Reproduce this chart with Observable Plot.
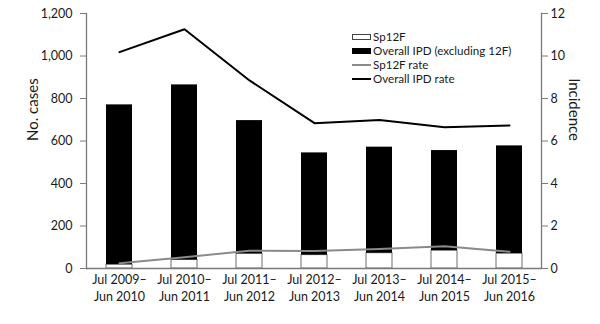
<!DOCTYPE html>
<html>
<head>
<meta charset="utf-8">
<script src="https://cdn.jsdelivr.net/npm/d3@7"></script>
<script src="https://cdn.jsdelivr.net/npm/@observablehq/plot@0.6"></script>
<style>
  html, body { margin: 0; padding: 0; background: #fff; }
  #wrap { position: relative; width: 600px; height: 324px; font-family: Lato, "Open Sans", sans-serif; color: #1a1a1a; }
  #legend { position: absolute; left: 352px; top: 30px; font-size: 11.6px; line-height: 14px; }
  #legend .row { display: flex; align-items: center; height: 14px; white-space: nowrap; }
  #legend .sw { width: 19px; margin-right: 2px; box-sizing: border-box; flex: none; }
</style>
</head>
<body>
<div id="wrap">
  <div id="chart"></div>
  <div id="legend"></div>
</div>
<script>
const periods = ["Jul 2009–\nJun 2010", "Jul 2010–\nJun 2011", "Jul 2011–\nJun 2012", "Jul 2012–\nJun 2013", "Jul 2013–\nJun 2014", "Jul 2014–\nJun 2015", "Jul 2015–\nJun 2016"];
const sp12fCases = [18, 40, 69, 63, 72, 84, 70];
const otherCases = [752, 824, 627, 481, 499, 471, 507];
const sp12fRate = [0.25, 0.53, 0.84, 0.82, 0.92, 1.05, 0.79];
const overallRate = [10.18, 11.26, 8.85, 6.84, 6.99, 6.65, 6.73];
const leftTicks = [0, 200, 400, 600, 800, 1000, 1200];
const rightTicks = [0, 2, 4, 6, 8, 10, 12];
const seriesNames = ["Sp12F", "Overall IPD (excluding 12F)", "Sp12F rate", "Overall IPD rate"];

const rateFactor = 100; // incidence axis 0–12 maps onto cases axis 0–1200
const rows = periods.map((p, i) => ({
  period: p,
  sp12f: sp12fCases[i],
  total: sp12fCases[i] + otherCases[i],
  sp12fRate: sp12fRate[i] * rateFactor,
  overallRate: overallRate[i] * rateFactor
}));

const axisColor = "#7a7a7a";
const textColor = "#1a1a1a";

const chart = Plot.plot({
  width: 600,
  height: 324,
  marginLeft: 86,
  marginRight: 59,
  marginTop: 13,
  marginBottom: 56,
  style: { fontFamily: "Lato, 'Open Sans', sans-serif", fontSize: "12.5px", color: textColor, background: "#fff" },
  x: { domain: periods, paddingInner: 0.6, paddingOuter: 0.3, axis: null },
  y: { domain: [0, 1200], axis: null },
  marks: [
    Plot.barY(rows, { x: "period", y1: 0, y2: "sp12f", fill: "#fff", stroke: "#6e6e6e", strokeWidth: 1 }),
    Plot.barY(rows, { x: "period", y1: "sp12f", y2: "total", fill: "#000" }),
    Plot.line(rows, { x: "period", y: "sp12fRate", stroke: "#8a8a8a", strokeWidth: 2 }),
    Plot.line(rows, { x: "period", y: "overallRate", stroke: "#000", strokeWidth: 2 }),
    Plot.ruleY([0], { stroke: axisColor, strokeWidth: 1.3 }),
    Plot.frame({ anchor: "left", stroke: axisColor, strokeWidth: 1.3 }),
    Plot.frame({ anchor: "right", stroke: axisColor, strokeWidth: 1.3 }),
    Plot.axisY(leftTicks, { anchor: "left", tickSize: 6, tickPadding: 8, stroke: axisColor, fill: textColor, fontSize: 12.5, label: null }),
    Plot.axisY(rightTicks.map(d => d * rateFactor), { anchor: "right", tickSize: 6, tickPadding: 3, tickFormat: d => String(d / rateFactor), stroke: axisColor, fill: textColor, fontSize: 12.5, label: null }),
    Plot.text(periods, { x: d => d, frameAnchor: "bottom", lineAnchor: "top", dy: 3, lineHeight: 1.4, fontSize: 12.5, fill: textColor }),
    Plot.text(["No. cases"], { frameAnchor: "left", rotate: -90, dx: -53, fontSize: 15, fill: textColor }),
    Plot.text(["Incidence"], { frameAnchor: "right", rotate: 90, dx: 32, fontSize: 15, fill: textColor })
  ]
});
document.getElementById("chart").appendChild(chart);

// Legend
const legend = document.getElementById("legend");
const swatches = [
  { h: 6, bg: "#fff", border: "1px solid #444" },
  { h: 6, bg: "#000", border: "none" },
  { h: 2, bg: "#8a8a8a", border: "none" },
  { h: 2, bg: "#000", border: "none" }
];
seriesNames.forEach((name, i) => {
  const row = document.createElement("div");
  row.className = "row";
  const sw = document.createElement("span");
  sw.className = "sw";
  sw.style.height = swatches[i].h + "px";
  sw.style.background = swatches[i].bg;
  sw.style.border = swatches[i].border;
  const t = document.createElement("span");
  t.textContent = name;
  row.appendChild(sw);
  row.appendChild(t);
  legend.appendChild(row);
});
</script>
</body>
</html>
